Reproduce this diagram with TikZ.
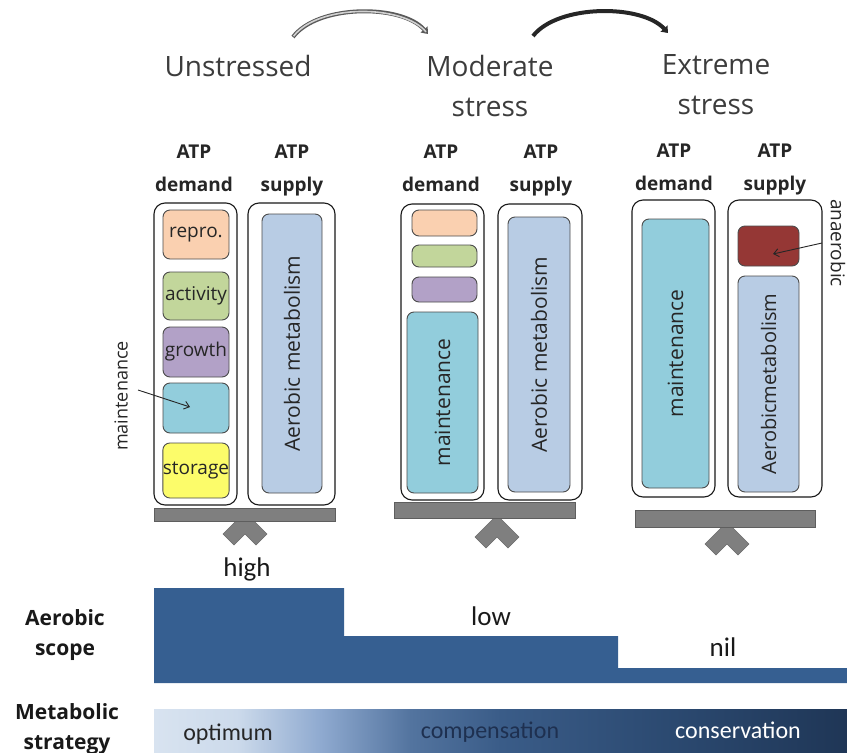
\documentclass[tikz,border=0pt]{standalone}
\usepackage{fontspec}
\usepackage{graphicx}
\setmainfont{Open Sans}
\newfontfamily\calfont{Carlito}
\usetikzlibrary{arrows.meta}
\definecolor{txtgray}{HTML}{3C3C3C}
\definecolor{cRepro}{HTML}{FAD0B0}
\definecolor{cAct}{HTML}{C2D69B}
\definecolor{cGrow}{HTML}{B2A1C7}
\definecolor{cMaint}{HTML}{92CDDC}
\definecolor{cStor}{HTML}{FCFC6A}
\definecolor{cAer}{HTML}{B8CCE4}
\definecolor{cAnaer}{HTML}{953735}
\definecolor{cBar}{HTML}{7F7F7F}
\definecolor{cBarEdge}{HTML}{5E5E5E}
\definecolor{cStep}{HTML}{365F91}
\definecolor{sA}{HTML}{D8E3F0}
\definecolor{sB}{HTML}{CCDAEB}
\definecolor{sC}{HTML}{8FAAD0}
\definecolor{sD}{HTML}{53749F}
\definecolor{sE}{HTML}{3A5C88}
\definecolor{sF}{HTML}{2B4970}
\definecolor{sG}{HTML}{1F3656}
\definecolor{cCompText}{HTML}{1E3050}
\pgfdeclarehorizontalshading{stratshade}{100bp}{color(0bp)=(sA); color(25bp)=(sA); color(31bp)=(sB); color(37bp)=(sC); color(43.5bp)=(sD); color(50bp)=(sE); color(62.5bp)=(sF); color(75bp)=(sG); color(100bp)=(sG)}
\newcommand\bx[7]{\node[#2, minimum width={(#5)-(#3)}, minimum height={(#6)-(#4)}] (#1) at ({((#3)+(#5))/2},{((#4)+(#6))/2}) {#7};}
\newcommand\fulcrum[2]{\filldraw[fulc] (#1,#2) -- ++(22,22) -- ++(-11,11) -- ++(-11,-11) -- ++(-11,11) -- ++(-11,-11) -- cycle;}
\tikzset{
  ttl/.style={font=\fontsize{28}{40}\selectfont, text=txtgray, align=center, inner sep=0, anchor=base},
  atp/.style={font=\bfseries\fontsize{19}{33}\selectfont, text=black!85, align=center, inner sep=0, anchor=base},
  outerbox/.style={draw=black!90, line width=1.1pt, rounded corners=11pt, fill=white, inner sep=0, outer sep=0},
  innerbox/.style={draw=black!70, line width=0.9pt, rounded corners=7pt, inner sep=0, outer sep=0, font=\fontsize{19}{22}\selectfont, text=black!85},
  tallbox/.style={innerbox, font=\fontsize{21}{24}\selectfont},
  bar/.style={fill=cBar, draw=cBarEdge, line width=0.8pt, inner sep=0, outer sep=0},
  fulc/.style={fill=cBar, draw=cBar!85!black, line width=0.6pt},
  sidelab/.style={font=\fontsize{18}{20}\selectfont, text=black!85, inner sep=0},
  ptr/.style={draw=black!85, line width=0.9pt, -{Straight Barb[length=5pt,width=8pt]}},
  bendarrow/.style={line width=4pt, -{Triangle[length=6pt,width=9pt]}},
  rowlab/.style={font=\bfseries\fontsize{21}{30}\selectfont, text=black!90, align=center, inner sep=0, anchor=base},
  level/.style={font=\calfont\fontsize{27}{30}\selectfont, text=black!90, inner sep=0, anchor=base},
  strat/.style={font=\calfont\fontsize{24}{28}\selectfont, inner sep=0, anchor=base}
}
\begin{document}
\begin{tikzpicture}[x=1pt,y=-1pt]
\useasboundingbox (0,0) rectangle (847,753);

% titles (base anchor = baseline of last line)
\node[ttl] (t1) at (238,76) {Unstressed};
\node[ttl] (t2) at (490,116) {Moderate\\stress};
\node[ttl] (t3) at (716,114) {Extreme\\stress};

% bent arrows between stages
\coordinate (a1s) at (293,37);
\coordinate (a1e) at (428,34);
\coordinate (a2s) at (533,36);
\coordinate (a2e) at (668,33);
\draw[bendarrow, draw=black!65] (a1s) .. controls (318,4) and (402,4) .. (a1e);
\draw[line width=1.6pt, draw=black!18, shorten >=3pt, shorten <=1pt] (a1s) .. controls (318,4) and (402,4) .. (a1e);
\draw[bendarrow, draw=black!85] (a2s) .. controls (558,4) and (642,4) .. (a2e);

% ATP labels
\node[atp] (d1) at (194,191) {ATP\\demand};
\node[atp] (s1) at (292,191) {ATP\\supply};
\node[atp] (d2) at (441,191) {ATP\\demand};
\node[atp] (s2) at (541,191) {ATP\\supply};
\node[atp] (d3) at (674,190) {ATP\\demand};
\node[atp] (s3) at (775,190) {ATP\\supply};

% ---------- Unstressed ----------
\fulcrum{245}{512}
\bx{bar1}{bar}{154}{508}{335}{521}{}
\bx{D1}{outerbox}{154}{203}{237}{505}{}
\bx{S1}{outerbox}{248}{203}{335}{505}{}
\bx{rep1}{innerbox, fill=cRepro}{163}{210}{229}{259}{repro.}
\bx{act1}{innerbox, fill=cAct}{163}{272}{229}{320}{activity}
\bx{gro1}{innerbox, fill=cGrow}{163}{327}{229}{377}{growth}
\bx{mai1}{innerbox, fill=cMaint}{163}{383}{229}{433}{}
\bx{sto1}{innerbox, fill=cStor}{163}{443}{229}{498}{storage}
\bx{aer1}{tallbox, fill=cAer}{262}{214}{322}{493}{\rotatebox{90}{Aerobic metabolism}}
\node[sidelab, rotate=90] (mlab) at (121,396) {maintenance};
\coordinate (mp1) at (138,390);
\coordinate (mp2) at (190,407);
\draw[ptr] (mp1) -- (mp2);

% ---------- Moderate ----------
\fulcrum{497}{515}
\bx{bar2}{bar}{394}{502}{575}{518}{}
\bx{D2}{outerbox}{401}{204}{484}{500}{}
\bx{S2}{outerbox}{498}{204}{582}{500}{}
\bx{rep2}{innerbox, fill=cRepro}{412}{210}{477}{236}{}
\bx{act2}{innerbox, fill=cAct}{412}{245}{477}{267}{}
\bx{gro2}{innerbox, fill=cGrow}{412}{277}{477}{302}{}
\bx{mai2}{tallbox, fill=cMaint}{407}{312}{478}{493}{\rotatebox{90}{maintenance}}
\bx{aer2}{tallbox, fill=cAer}{508}{217}{570}{492}{\rotatebox{90}{Aerobic metabolism}}

% ---------- Extreme ----------
\fulcrum{727}{522}
\bx{bar3}{bar}{635}{510}{815}{527}{}
\bx{D3}{outerbox}{632}{200}{715}{497}{}
\bx{S3}{outerbox}{728}{200}{822}{497}{}
\bx{mai3}{tallbox, fill=cMaint}{642}{219}{709}{488}{\rotatebox{90}{maintenance}}
\bx{ana3}{innerbox, fill=cAnaer}{738}{226}{799}{266}{}
\bx{aer3}{tallbox, fill=cAer, font=\fontsize{20}{24}\selectfont}{738}{276}{799}{492}{\rotatebox{90}{Aerobicmetabolism}}
\node[sidelab, rotate=-90, font=\fontsize{19}{22}\selectfont] (alab) at (838,243) {anaerobic};
\coordinate (ap1) at (822,243);
\coordinate (ap2) at (773,254);
\draw[ptr] (ap1) -- (ap2);

% ---------- Aerobic scope ----------
\fill[cStep] (154,588) -| (344,636) -| (618,668) -| (847,683) -| cycle;
\node[level] (hi) at (247,576) {high};
\node[level] (lo) at (491,625) {low};
\node[level] (ni) at (723,656) {nil};
\node[rowlab] (rl1) at (65,655) {Aerobic\\scope};

% ---------- Metabolic strategy ----------
\shade[shading=stratshade] (154,709) rectangle (847,753);
\node[strat, text=black!85] (op) at (228,740) {optimum};
\node[strat, text=cCompText] (co) at (490,738) {compensation};
\node[strat, text=white] (cs) at (738,738) {conservation};
\node[rowlab] (rl2) at (67,749) {Metabolic\\strategy};
\end{tikzpicture}
\end{document}
